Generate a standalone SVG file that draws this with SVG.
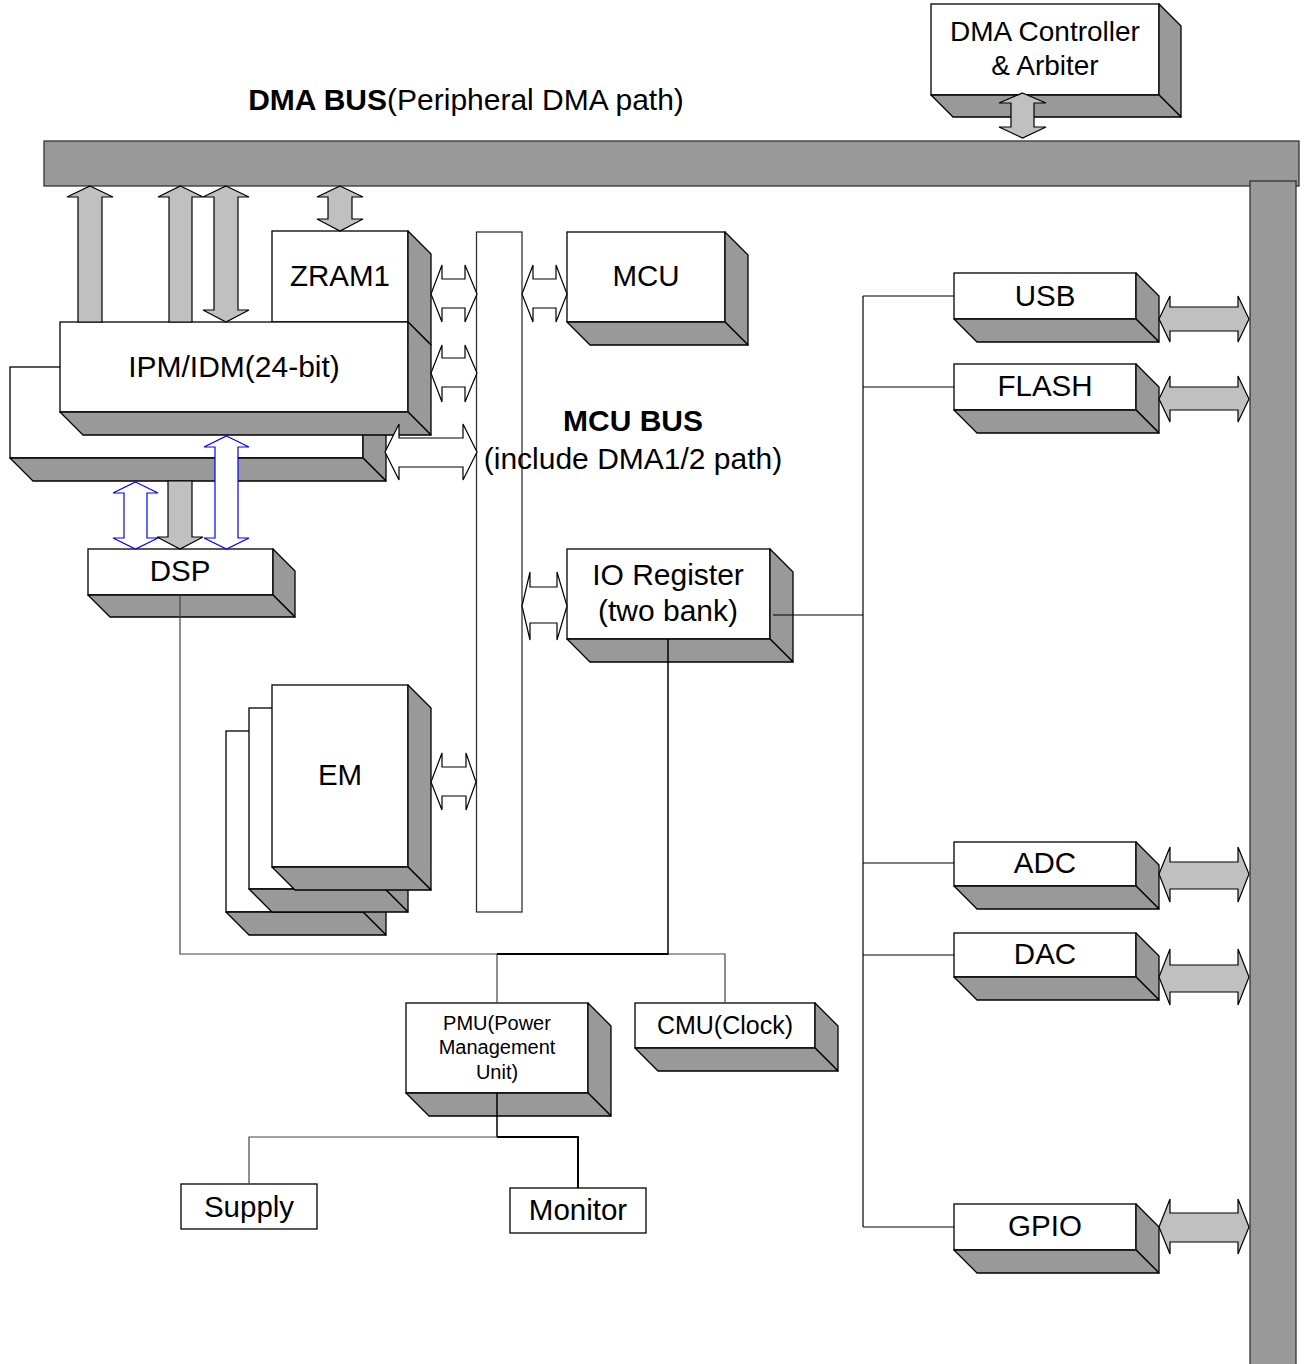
<svg xmlns="http://www.w3.org/2000/svg" width="1304" height="1364" viewBox="0 0 1304 1364">
<style>
text{font-family:"Liberation Sans",Arial,sans-serif;fill:#000;text-anchor:middle}
.t{font-size:29.5px}
.h{font-size:30px}
.b{font-weight:bold}
.front{fill:#fff;stroke:#000;stroke-width:1.3}
.face{fill:#999;stroke:#000;stroke-width:1.3;stroke-linejoin:round}
.bus{fill:#999;stroke:#333;stroke-width:1.3}
.ga{fill:#c0c0c0;stroke:#000;stroke-width:1.2}
.wa{fill:#fff;stroke:#000;stroke-width:1.2}
.ba{fill:#fff;stroke:#00f;stroke-width:1.2}
.ln{fill:none;stroke:#444;stroke-width:1.2}
.lk{fill:none;stroke:#000;stroke-width:2}
</style>
<rect width="1304" height="1364" fill="#fff"/>

<g id="dma-bus">
<rect class="bus" x="44" y="141" width="1255" height="45"/>
<rect class="bus" x="1250" y="181" width="46" height="1190"/>
<text class="h" x="466" y="110"><tspan class="b">DMA BUS</tspan>(Peripheral DMA path)</text>
</g>

<g id="mcu-bus">
<rect x="476.5" y="232" width="45.5" height="680" fill="#fff" stroke="#333" stroke-width="1.3"/>
<text class="h b" x="633" y="431">MCU BUS</text>
<text class="h" x="633" y="469">(include DMA1/2 path)</text>
</g>

<g id="dma-controller">
<rect class="front" x="931" y="4" width="228" height="91"/>
<polygon class="face" points="1159,4 1181,26 1181,117 1159,95"/>
<polygon class="face" points="931,95 953,117 1181,117 1159,95"/>
<text style="font-size:28px" x="1045" y="41">DMA Controller</text>
<text style="font-size:28px" x="1045" y="75">&amp; Arbiter</text>
</g>

<g id="zram1">
<rect class="front" x="272" y="231" width="136" height="91"/>
<polygon class="face" points="408,231 431,254 431,345 408,322"/>
<text class="t" x="340" y="286">ZRAM1</text>
</g>

<g id="ipm-back">
<rect class="front" x="10" y="367" width="353" height="91"/>
<polygon class="face" points="363,367 386,390 386,481 363,458"/>
<polygon class="face" points="10,458 33,481 386,481 363,458"/>
</g>

<g id="ipm-idm">
<rect class="front" x="60" y="322" width="348" height="90"/>
<polygon class="face" points="408,322 431,345 431,435 408,412"/>
<polygon class="face" points="60,412 83,435 431,435 408,412"/>
<text class="h" x="234" y="377">IPM/IDM(24-bit)</text>
</g>

<g id="mcu">
<rect class="front" x="567" y="232" width="158" height="90"/>
<polygon class="face" points="725,232 748,255 748,345 725,322"/>
<polygon class="face" points="567,322 590,345 748,345 725,322"/>
<text class="t" x="646" y="286">MCU</text>
</g>

<g id="dsp">
<rect class="front" x="88" y="549" width="185" height="46"/>
<polygon class="face" points="273,549 295,571 295,617 273,595"/>
<polygon class="face" points="88,595 110,617 295,617 273,595"/>
<text class="t" x="180" y="581">DSP</text>
</g>

<g id="io-register">
<rect class="front" x="567" y="549" width="203" height="90"/>
<polygon class="face" points="770,549 793,572 793,662 770,639"/>
<polygon class="face" points="567,639 590,662 793,662 770,639"/>
<text class="h" x="668" y="585">IO Register</text>
<text class="h" x="668" y="621">(two bank)</text>
</g>

<g id="em">
<rect class="front" x="226" y="731" width="137" height="181"/>
<polygon class="face" points="363,731 386,754 386,935 363,912"/>
<polygon class="face" points="226,912 249,935 386,935 363,912"/>
<rect class="front" x="249" y="708" width="136" height="181"/>
<polygon class="face" points="385,708 408,731 408,912 385,889"/>
<polygon class="face" points="249,889 272,912 408,912 385,889"/>
<rect class="front" x="272" y="685" width="136" height="182"/>
<polygon class="face" points="408,685 431,708 431,890 408,867"/>
<polygon class="face" points="272,867 295,890 431,890 408,867"/>
<text class="t" x="340" y="785">EM</text>
</g>

<g id="usb">
<rect class="front" x="954" y="273" width="182" height="46"/>
<polygon class="face" points="1136,273 1159,296 1159,342 1136,319"/>
<polygon class="face" points="954,319 977,342 1159,342 1136,319"/>
<text class="t" x="1045" y="306">USB</text>
</g>

<g id="flash">
<rect class="front" x="954" y="364" width="182" height="46"/>
<polygon class="face" points="1136,364 1159,387 1159,433 1136,410"/>
<polygon class="face" points="954,410 977,433 1159,433 1136,410"/>
<text class="t" x="1045" y="396">FLASH</text>
</g>

<g id="adc">
<rect class="front" x="954" y="842" width="182" height="44"/>
<polygon class="face" points="1136,842 1159,865 1159,909 1136,886"/>
<polygon class="face" points="954,886 977,909 1159,909 1136,886"/>
<text class="t" x="1045" y="873">ADC</text>
</g>

<g id="dac">
<rect class="front" x="954" y="933" width="182" height="44"/>
<polygon class="face" points="1136,933 1159,956 1159,1000 1136,977"/>
<polygon class="face" points="954,977 977,1000 1159,1000 1136,977"/>
<text class="t" x="1045" y="964">DAC</text>
</g>

<g id="gpio">
<rect class="front" x="954" y="1204" width="182" height="46"/>
<polygon class="face" points="1136,1204 1159,1227 1159,1273 1136,1250"/>
<polygon class="face" points="954,1250 977,1273 1159,1273 1136,1250"/>
<text class="t" x="1045" y="1236">GPIO</text>
</g>

<g id="pmu">
<rect class="front" x="406" y="1003" width="182" height="90"/>
<polygon class="face" points="588,1003 611,1026 611,1116 588,1093"/>
<polygon class="face" points="406,1093 429,1116 611,1116 588,1093"/>
<text style="font-size:20px" x="497" y="1030">PMU(Power</text>
<text style="font-size:20px" x="497" y="1054">Management</text>
<text style="font-size:20px" x="497" y="1079">Unit)</text>
</g>

<g id="cmu">
<rect class="front" x="635" y="1003" width="180" height="45"/>
<polygon class="face" points="815,1003 838,1026 838,1071 815,1048"/>
<polygon class="face" points="635,1048 658,1071 838,1071 815,1048"/>
<text style="font-size:25px" x="725" y="1034">CMU(Clock)</text>
</g>

<g id="supply">
<rect class="front" x="181" y="1184" width="136" height="45"/>
<text class="t" x="249" y="1217">Supply</text>
</g>

<g id="monitor">
<rect class="front" x="510" y="1188" width="136" height="45"/>
<text class="t" x="578" y="1220">Monitor</text>
</g>

<g id="connectors">
<polygon class="ga" points="1022.5,93 1046,103 1034,103 1034,127 1046,127 1022.5,138 999,127 1011,127 1011,103 999,103"/>
<polygon class="ga" points="90,186 113,197 102,197 102,322 78,322 78,197 67,197"/>
<polygon class="ga" points="180.5,186 203,197 192,197 192,322 169,322 169,197 158,197"/>
<polygon class="ga" points="226,186 249,197 238,197 238,310 249,310 226,322 203,310 214,310 214,197 203,197"/>
<polygon class="ga" points="340,186 363,197 352,197 352,219 363,219 340,231 317,219 328,219 328,197 317,197"/>
<polygon class="wa" points="431,294 442,265 442,279 465,279 465,265 477,294 465,322 465,308 442,308 442,322"/>
<polygon class="wa" points="431,373 442,345 442,358 465,358 465,345 477,373 465,402 465,387 442,387 442,402"/>
<polygon class="wa" points="385,452 399,424 399,438 463,438 463,424 477,452 463,480 463,467 399,467 399,480"/>
<polygon class="wa" points="522,294 533,265 533,279 556,279 556,265 567,294 556,322 556,308 533,308 533,322"/>
<polygon class="wa" points="431,782 442,753 442,767 466,767 466,753 476,782 466,810 466,796 442,796 442,810"/>
<polygon class="wa" points="522,606 530,572 530,587 557,587 557,572 567,606 557,640 557,623 530,623 530,640"/>
<polygon class="ga" points="1159,319 1170,296 1170,307 1238,307 1238,296 1249,319 1238,342 1238,331 1170,331 1170,342"/>
<polygon class="ga" points="1159,399 1170,376 1170,387 1238,387 1238,376 1249,399 1238,422 1238,410 1170,410 1170,422"/>
<polygon class="ga" points="1159,874 1170,847 1170,862 1238,862 1238,847 1249,874 1238,902 1238,889 1170,889 1170,902"/>
<polygon class="ga" points="1159,977 1170,949 1170,965 1238,965 1238,949 1249,977 1238,1005 1238,992 1170,992 1170,1005"/>
<polygon class="ga" points="1159,1227 1170,1199 1170,1213 1238,1213 1238,1199 1249,1227 1238,1254 1238,1242 1170,1242 1170,1254"/>
<polygon class="ba" points="135.5,482 158,493 147,493 147,538 158,538 135.5,549 113,538 124,538 124,493 113,493"/>
<polygon class="ga" points="168,481 192,481 192,537 203,537 180,549 157,537 168,537"/>
<polygon class="ba" points="226.5,436 249,447 238,447 238,538 249,538 226.5,549 204,538 215,538 215,447 204,447"/>
<polyline class="ln" points="180,595 180,954 497,954"/>
<polyline class="ln" points="668,954 725,954 725,1003"/>
<line class="ln" x1="497" y1="954" x2="497" y2="1003"/>
<line class="lk" x1="497" y1="954" x2="668" y2="954"/>
<line class="lk" style="stroke-width:1.5" x1="668" y1="639" x2="668" y2="955"/>
<line class="lk" style="stroke-width:1.5" x1="497" y1="1093" x2="497" y2="1137"/>
<polyline class="ln" points="497,1137 249,1137 249,1184"/>
<polyline class="lk" points="497,1137 578,1137 578,1188"/>
<line class="ln" style="stroke:#000" x1="773" y1="615" x2="863" y2="615"/>
<line class="ln" style="stroke:#000" x1="863" y1="296" x2="863" y2="1227"/>
<line class="ln" style="stroke:#000" x1="863" y1="296" x2="954" y2="296"/>
<line class="ln" style="stroke:#000" x1="863" y1="387" x2="954" y2="387"/>
<line class="ln" style="stroke:#000" x1="863" y1="863" x2="954" y2="863"/>
<line class="ln" style="stroke:#000" x1="863" y1="955" x2="954" y2="955"/>
<line class="ln" style="stroke:#000" x1="863" y1="1227" x2="954" y2="1227"/>
</g>
</svg>
